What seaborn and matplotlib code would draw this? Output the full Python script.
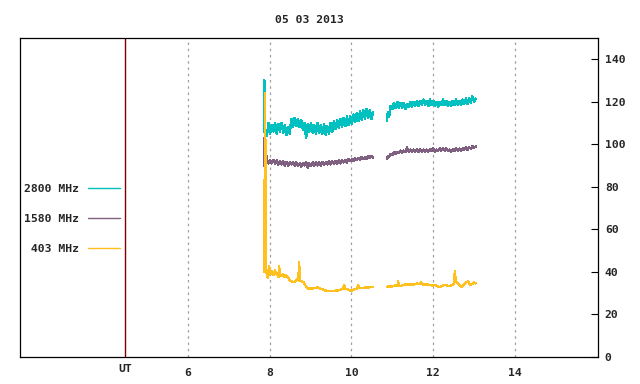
import numpy as np
import pandas as pd
import matplotlib
matplotlib.use('Agg')
import matplotlib.pyplot as plt
import seaborn as sns

# --- data (hours UT) ---
title = '05 03 2013'
labels = ['2800 MHz', '1580 MHz', ' 403 MHz']
colors = ['#00c0c0', '#806080', '#ffc020']

t_a = [7.86, 7.87, 7.89, 7.93, 7.97,
       8.01, 8.05, 8.09, 8.13, 8.17, 8.21, 8.25, 8.29, 8.33, 8.37, 8.41, 8.45, 8.49,
       8.53, 8.57, 8.61, 8.65, 8.69, 8.73, 8.77, 8.81, 8.85, 8.89, 8.93, 8.97,
       9.01, 9.05, 9.09, 9.13, 9.17, 9.21, 9.25, 9.29, 9.33, 9.37, 9.41, 9.45, 9.49,
       9.53, 9.57, 9.61, 9.65, 9.69, 9.73, 9.77, 9.81, 9.85, 9.89, 9.93, 9.97,
       10.01, 10.05, 10.09, 10.13, 10.17, 10.21, 10.25, 10.29, 10.33, 10.37, 10.41,
       10.45, 10.49, 10.53]
t_b = [10.87, 10.89, 10.92, 10.96,
       11.00, 11.04, 11.08, 11.12, 11.16, 11.20, 11.24, 11.28, 11.32, 11.36, 11.40,
       11.44, 11.48, 11.52, 11.56, 11.60, 11.64, 11.68, 11.72, 11.76, 11.80, 11.84,
       11.88, 11.92, 11.96, 12.00, 12.04, 12.08, 12.12, 12.16, 12.20, 12.24, 12.28,
       12.32, 12.36, 12.40, 12.44, 12.48, 12.52, 12.56, 12.60, 12.64, 12.68, 12.72,
       12.76, 12.80, 12.84, 12.88, 12.92, 12.96, 13.00, 13.04]

f2800_a = [106, 130, 107, 104, 110,
           105, 109, 106, 110, 105, 109.5, 106, 110, 105.5, 109, 104.5, 108, 105,
           112, 108, 112.5, 108.5, 112, 108, 111.5, 107, 110, 103, 109.5, 106,
           110, 105.5, 109, 105, 110, 105.5, 109, 105, 109.5, 104.5, 108.5, 105, 110,
           106, 111, 107, 111.5, 107.5, 112, 108, 112.5, 108.5, 113, 109, 113,
           109.5, 114, 110.5, 114.5, 111, 115.5, 111.5, 116, 112, 116.5, 112.5,
           116, 112, 115]
f2800_b = [111, 115, 113, 118,
           116.5, 119.5, 117, 120, 117, 119.5, 117, 119.5, 116.5, 119, 117.5,
           120, 117.5, 120, 118, 120.5, 118, 120.5, 118.5, 121, 118.5, 120.5,
           118, 121, 118.5, 120.5, 118, 120, 117.5, 120, 118.5, 121, 118.5,
           120.5, 118, 120, 118, 120.5, 118.5, 121, 118.5, 120.5, 118.5, 121,
           119, 121.5, 119, 121.5, 119.5, 122.5, 120, 121.5]

f1580_a = [103, 90, 98, 93, 91,
           92.5, 91, 92.5, 91, 92.5, 90.5, 92, 90.5, 92, 90, 91.5, 90, 91.5,
           90.5, 91.5, 90, 91.5, 90, 91, 89.5, 91, 90, 91.5, 89, 91,
           90, 91.5, 90, 91.5, 90, 91.5, 90, 91.5, 90.5, 91.5, 90.5, 92, 90.5,
           92, 91, 92, 91, 92.5, 91, 92.5, 91.5, 92.5, 91.5, 93, 92,
           93, 92, 93.5, 92.5, 93.5, 92.5, 94, 93, 94, 93, 94.5,
           93.5, 94.5, 93.5]
f1580_b = [93, 94.5, 94, 95.5,
           95, 96.5, 95.5, 96.5, 96, 97, 96, 97, 96.5, 98.5, 96.5,
           97.5, 96.5, 97.5, 96.5, 97.5, 96.5, 97.5, 96.5, 97.5, 96.5, 97.5,
           96.5, 97.5, 97, 98, 96.5, 97.5, 97, 98, 97, 98, 97,
           98, 97, 97.5, 96.5, 97.5, 97, 98, 97, 98, 97, 98,
           97.5, 98.5, 97.5, 98.5, 98, 99, 98.5, 99]

t403_a = [7.86, 7.865, 7.87, 7.885, 7.89, 7.895, 7.90, 7.91, 7.93, 7.96, 7.98,
          8.01, 8.04, 8.06, 8.09, 8.12, 8.13, 8.15, 8.18, 8.21, 8.23, 8.25, 8.28,
          8.32, 8.36, 8.39, 8.42, 8.46, 8.50, 8.54, 8.57, 8.62, 8.67, 8.70, 8.72,
          8.74, 8.79, 8.83, 8.86, 8.90, 8.94, 8.98, 9.03, 9.08, 9.13, 9.18, 9.23,
          9.28, 9.34, 9.40, 9.47, 9.55, 9.63, 9.72, 9.78, 9.82, 9.85, 9.89, 9.94,
          9.99, 10.04, 10.09, 10.14, 10.16, 10.18, 10.21, 10.27, 10.33, 10.40,
          10.47, 10.53]
f403_a = [40, 63, 48, 124, 45, 102, 42, 40, 39, 37, 42.6,
          41, 39, 40.3, 38.5, 39.7, 41, 39, 38.8, 37.5, 42.5, 38, 38.5,
          38.8, 37.5, 38.5, 38, 37, 36, 35.5, 35.2, 35.3, 36.8, 36, 44.5,
          35.6, 35.6, 35, 34, 33, 32, 32.5, 32, 32.5, 32.5, 32.8, 32.2,
          32, 31.5, 30.9, 31, 30.9, 31.3, 31.4, 32, 33.6, 32, 32, 31.5,
          30.9, 31.5, 32, 32.2, 34, 32.3, 32.3, 32.5, 32.6, 32.7,
          32.8, 32.8]
t403_b = [10.87, 10.92, 10.97, 11.02, 11.08, 11.13, 11.14, 11.16, 11.19, 11.25,
          11.31, 11.38, 11.45, 11.52, 11.60, 11.68, 11.70, 11.72, 11.80, 11.86,
          11.92, 11.99, 12.05, 12.11, 12.17, 12.23, 12.29, 12.35, 12.41, 12.47,
          12.51, 12.53, 12.55, 12.58, 12.61, 12.66, 12.70, 12.75, 12.80, 12.85,
          12.90, 12.95, 13.00, 13.04]
f403_b = [33, 33.5, 33, 33.3, 33.8, 33.5, 35.6, 33.5, 33.3, 33.8,
          34, 34, 34.2, 34, 34.5, 34.3, 35.3, 34.2, 34, 34.2,
          33.8, 33.6, 34, 33.2, 32.8, 33.5, 34, 33.5, 33.3, 34,
          34.5, 40.3, 36, 35, 34.6, 33.5, 33, 34, 35.2, 35.5,
          34, 34.2, 35, 34.6]

ut_pos = 4.46
xticks = [6, 8, 10, 12, 14]
yticks = [0, 20, 40, 60, 80, 100, 120, 140]

sns.set_theme(style='white')
plt.rcParams['font.family'] = ['DejaVu Sans Mono']
plt.rcParams['font.weight'] = 'bold'

fig = plt.figure(figsize=(6.4, 3.84), dpi=100)
ax = fig.add_axes([0.03125, 0.0703, 0.903, 0.831])

segments = [
    (t_a, f2800_a, t_b, f2800_b),
    (t_a, f1580_a, t_b, f1580_b),
    (t403_a, f403_a, t403_b, f403_b),
]
for (ta, va, tb, vb), lab, c in zip(segments, labels, colors):
    sns.lineplot(x=ta, y=va, ax=ax, color=c, lw=1.0, estimator=None, sort=False,
                 label=lab, antialiased=False)
    sns.lineplot(x=tb, y=vb, ax=ax, color=c, lw=1.0, estimator=None, sort=False,
                 antialiased=False)

ax.axvline(ut_pos, color='#800000', lw=1, zorder=0)
ax.set_xlim(1.89, 16.03)
ax.set_ylim(0, 150)

ax.set_xticks(xticks)
ax.set_xticklabels([str(v) for v in xticks])
ax.set_xticks([ut_pos], minor=True)
ax.set_xticklabels(['UT'], minor=True)
ax.tick_params(axis='x', which='major', length=0, pad=8, labelsize=8.2)
ax.tick_params(axis='x', which='minor', length=0, pad=5, labelsize=8.2)
ax.grid(axis='x', which='major', color='#a0a0a0', linestyle=(0, (2, 3)), lw=0.9)

ax.yaxis.tick_right()
ax.set_yticks(yticks)
ax.tick_params(axis='y', direction='in', length=5, width=0.8, color='black',
               pad=5, labelsize=8.2, right=True, left=False)

for s in ax.spines.values():
    s.set_color('black')
    s.set_linewidth(0.9)

ax.set_xlabel('')
ax.set_ylabel('')
ax.set_title(title, fontsize=8.2, fontweight='bold', pad=11)

leg = ax.legend(loc='center right', bbox_to_anchor=(0.173, 0.433), frameon=False,
                markerfirst=False, handlelength=2.8, handletextpad=0.8,
                labelspacing=1.75, borderpad=0, borderaxespad=0,
                prop={'family': 'DejaVu Sans Mono', 'weight': 'bold', 'size': 8.2})

fig.savefig('out.png', dpi=100)
